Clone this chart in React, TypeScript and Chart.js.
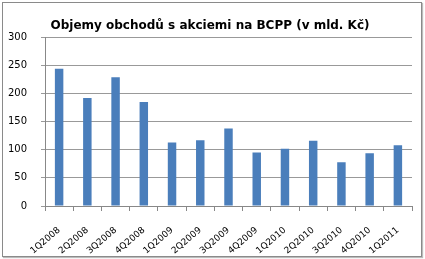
import React, { useEffect, useRef } from "react";
import { Chart, registerables } from "chart.js";

Chart.register(...registerables);

const categories = [
  "1Q2008", "2Q2008", "3Q2008", "4Q2008",
  "1Q2009", "2Q2009", "3Q2009", "4Q2009",
  "1Q2010", "2Q2010", "3Q2010", "4Q2010",
  "1Q2011",
];
const volumes = [244, 192, 229, 185, 113, 117, 138, 95, 102, 116, 78, 94, 108];
const titleText = "Objemy obchodů s akciemi na BCPP (v mld. Kč)";
const yMin = 0;
const yMax = 300;
const yStep = 50;

export default function App() {
  const ref = useRef<HTMLCanvasElement | null>(null);

  useEffect(() => {
    if (!ref.current) return;
    const chart = new Chart(ref.current, {
      type: "bar",
      data: {
        labels: categories,
        datasets: [
          {
            data: volumes,
            backgroundColor: "#4A7EBB",
            borderWidth: 0,
            barPercentage: 0.3,
            categoryPercentage: 1,
          },
        ],
      },
      options: {
        animation: false,
        responsive: false,
        maintainAspectRatio: false,
        layout: { padding: { left: 8, right: 13, top: 0, bottom: 0 } },
        plugins: {
          legend: { display: false },
          tooltip: { enabled: false },
          title: {
            display: true,
            text: titleText,
            color: "#000",
            font: { family: "DejaVu Sans", size: 12, weight: "bold" },
            padding: { top: 19, bottom: 4 },
          },
        },
        scales: {
          x: {
            afterFit: (scale: any) => {
              scale.paddingLeft = 0;
              scale.paddingRight = 0;
              scale.height = 53;
            },
            grid: {
              display: true,
              drawOnChartArea: false,
              drawTicks: true,
              tickLength: 5,
              color: "#888",
            },
            border: { display: true, color: "#888" },
            ticks: {
              color: "#000",
              minRotation: 40,
              maxRotation: 40,
              padding: 14,
              font: { family: "DejaVu Sans", size: 9 },
            },
          },
          y: {
            min: yMin,
            max: yMax,
            afterFit: (scale: any) => {
              scale.width = 37;
            },
            grid: { color: "#999", tickLength: 4 },
            border: { display: true, color: "#888" },
            ticks: {
              stepSize: yStep,
              color: "#000",
              padding: 14,
              font: { family: "DejaVu Sans", size: 10 },
            },
          },
        },
      },
    });
    return () => chart.destroy();
  }, []);

  return (
    <div style={{ position: "absolute", left: 0, top: 0, width: 425, height: 259, background: "#fff" }}>
      <div
        style={{
          position: "absolute",
          left: 2,
          top: 2,
          width: 418,
          height: 253,
          border: "1px solid #8a8a8a",
          boxShadow: "1px 1px 1px #bbb",
        }}
      />
      <canvas ref={ref} width={425} height={259} style={{ position: "absolute", left: 0, top: 0 }} />
    </div>
  );
}
